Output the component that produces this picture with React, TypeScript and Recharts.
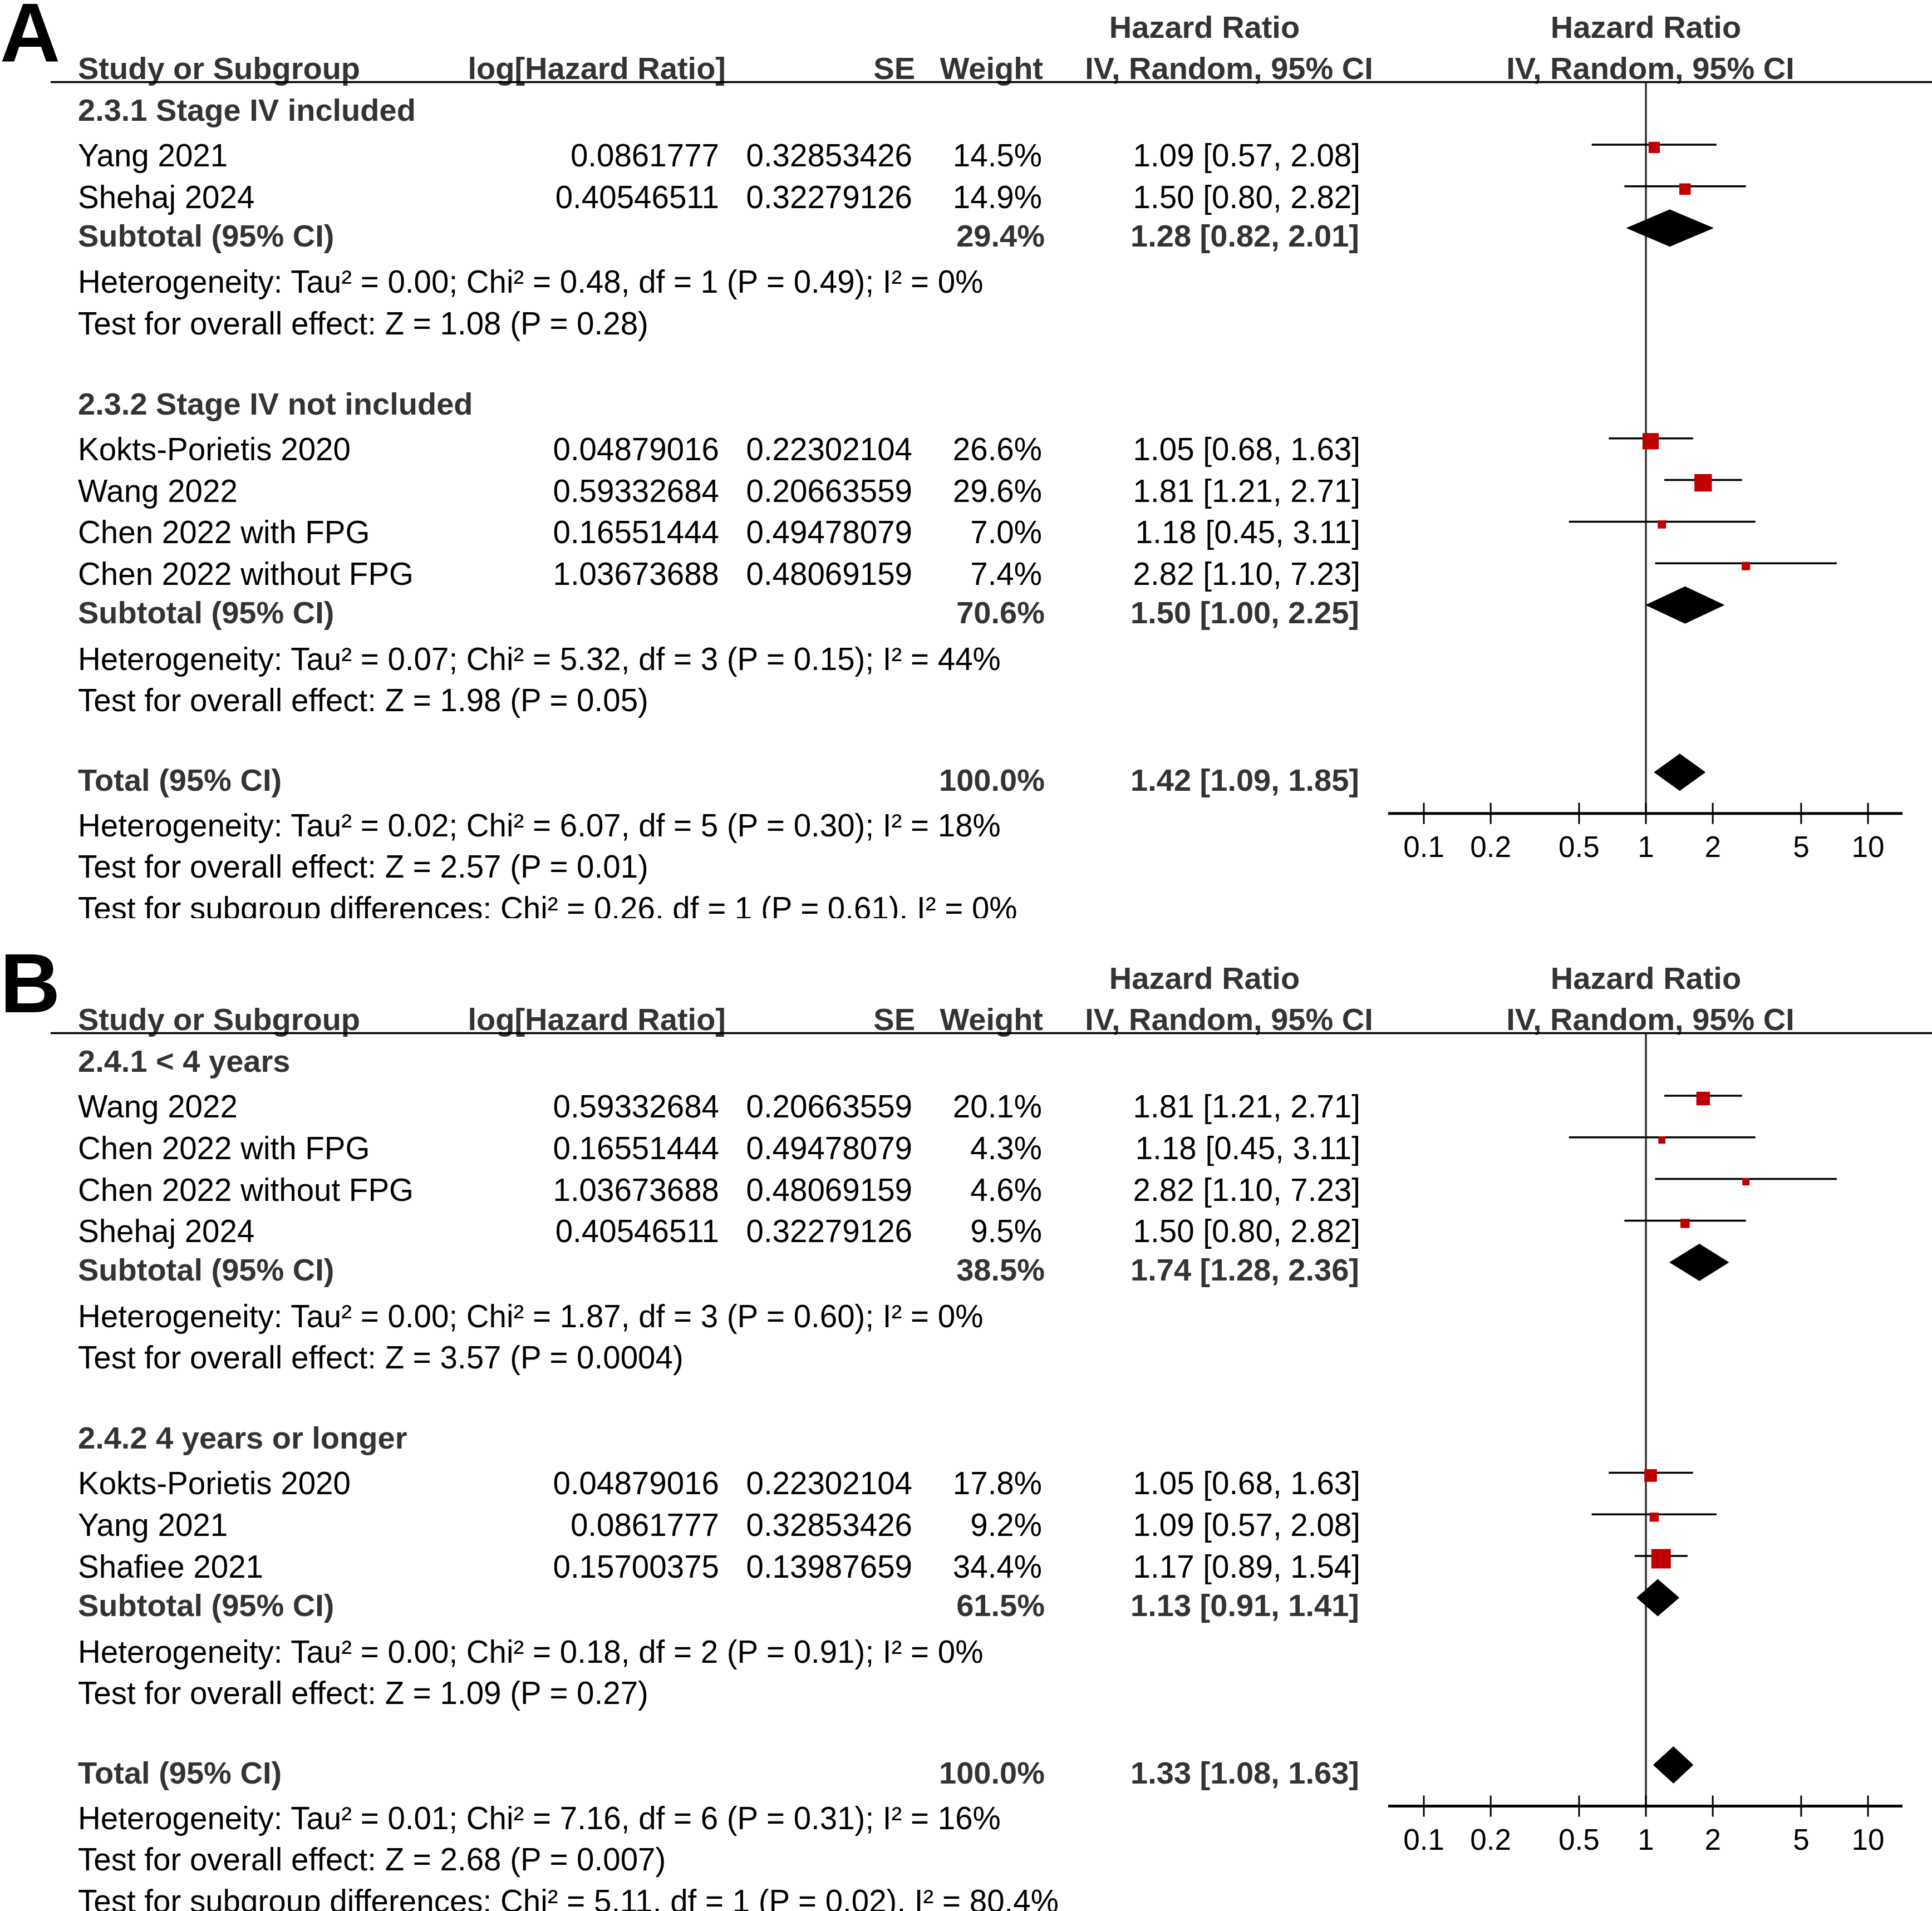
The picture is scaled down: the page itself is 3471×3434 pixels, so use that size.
import React from "react";
import { ComposedChart, XAxis, YAxis, Scatter, ReferenceLine } from "recharts";

// ---------- panel A : 2.3 stage IV ----------
const A_GROUPS = ["2.3.1 Stage IV included", "2.3.2 Stage IV not included"];
const A_STUDIES = ["Yang 2021", "Shehaj 2024", "Kokts-Porietis 2020", "Wang 2022", "Chen 2022 with FPG", "Chen 2022 without FPG"];
const A_STUDY_GROUP = [0, 0, 1, 1, 1, 1];
const A_LOG_HR = ["0.0861777", "0.40546511", "0.04879016", "0.59332684", "0.16551444", "1.03673688"];
const A_SE = ["0.32853426", "0.32279126", "0.22302104", "0.20663559", "0.49478079", "0.48069159"];
const A_WEIGHT = [14.5, 14.9, 26.6, 29.6, 7.0, 7.4];
const A_HR = [1.09, 1.5, 1.05, 1.81, 1.18, 2.82];
const A_LO = [0.57, 0.8, 0.68, 1.21, 0.45, 1.1];
const A_HI = [2.08, 2.82, 1.63, 2.71, 3.11, 7.23];
const A_SUB_WEIGHT = [29.4, 70.6];
const A_SUB_HR = [1.28, 1.5];
const A_SUB_LO = [0.82, 1.0];
const A_SUB_HI = [2.01, 2.25];
const A_SUB_HET = [
  "Heterogeneity: Tau² = 0.00; Chi² = 0.48, df = 1 (P = 0.49); I² = 0%",
  "Heterogeneity: Tau² = 0.07; Chi² = 5.32, df = 3 (P = 0.15); I² = 44%",
];
const A_SUB_Z = ["Test for overall effect: Z = 1.08 (P = 0.28)", "Test for overall effect: Z = 1.98 (P = 0.05)"];
const A_TOTAL = [1.42, 1.09, 1.85];
const A_TOTAL_NOTES = [
  "Heterogeneity: Tau² = 0.02; Chi² = 6.07, df = 5 (P = 0.30); I² = 18%",
  "Test for overall effect: Z = 2.57 (P = 0.01)",
  "Test for subgroup differences: Chi² = 0.26, df = 1 (P = 0.61), I² = 0%",
];

// ---------- panel B : 2.4 follow-up ----------
const B_GROUPS = ["2.4.1 < 4 years", "2.4.2 4 years or longer"];
const B_STUDIES = ["Wang 2022", "Chen 2022 with FPG", "Chen 2022 without FPG", "Shehaj 2024", "Kokts-Porietis 2020", "Yang 2021", "Shafiee 2021"];
const B_STUDY_GROUP = [0, 0, 0, 0, 1, 1, 1];
const B_LOG_HR = ["0.59332684", "0.16551444", "1.03673688", "0.40546511", "0.04879016", "0.0861777", "0.15700375"];
const B_SE = ["0.20663559", "0.49478079", "0.48069159", "0.32279126", "0.22302104", "0.32853426", "0.13987659"];
const B_WEIGHT = [20.1, 4.3, 4.6, 9.5, 17.8, 9.2, 34.4];
const B_HR = [1.81, 1.18, 2.82, 1.5, 1.05, 1.09, 1.17];
const B_LO = [1.21, 0.45, 1.1, 0.8, 0.68, 0.57, 0.89];
const B_HI = [2.71, 3.11, 7.23, 2.82, 1.63, 2.08, 1.54];
const B_SUB_WEIGHT = [38.5, 61.5];
const B_SUB_HR = [1.74, 1.13];
const B_SUB_LO = [1.28, 0.91];
const B_SUB_HI = [2.36, 1.41];
const B_SUB_HET = [
  "Heterogeneity: Tau² = 0.00; Chi² = 1.87, df = 3 (P = 0.60); I² = 0%",
  "Heterogeneity: Tau² = 0.00; Chi² = 0.18, df = 2 (P = 0.91); I² = 0%",
];
const B_SUB_Z = ["Test for overall effect: Z = 3.57 (P = 0.0004)", "Test for overall effect: Z = 1.09 (P = 0.27)"];
const B_TOTAL = [1.33, 1.08, 1.63];
const B_TOTAL_NOTES = [
  "Heterogeneity: Tau² = 0.01; Chi² = 7.16, df = 6 (P = 0.31); I² = 16%",
  "Test for overall effect: Z = 2.68 (P = 0.007)",
  "Test for subgroup differences: Chi² = 5.11, df = 1 (P = 0.02), I² = 80.4%",
];

const HR_TICKS = [0.1, 0.2, 0.5, 1, 2, 5, 10];

// ---------- layout ----------
const W = 3471;
const FONT = '"Liberation Sans", Arial, Helvetica, sans-serif';
const FS = 56.5;
const FS_BOLD = 56;
const PLOT_L = 2494;
const PLOT_R = 3418;
const X_DOMAIN = [0.0691, 14.3];
const LINE_Y = 147.5;
const AXIS_BELOW_TOTAL = 61;
const XAXIS_H = 110;
const FIRST_ROW = 197;
const GAP = { group: 144, firstStudy: 82, study: 74.8, subtotal: 69, het: 83.5, line: 74.5, total: 142.5, totalHet: 82 };
const COL = { name: 140, logHr: 1292, logHrHead: 1304, se: 1639, seHead: 1644, weight: 1874, ci: 2444 };

type Panel = {
  letter: string;
  groups: string[];
  studies: string[];
  studyGroup: number[];
  logHr: string[];
  se: string[];
  weight: number[];
  hr: number[];
  lo: number[];
  hi: number[];
  subWeight: number[];
  subHr: number[];
  subLo: number[];
  subHi: number[];
  subHet: string[];
  subZ: string[];
  total: number[];
  totalNotes: string[];
  clipH: number;
};

type Row = { kind: "group" | "study" | "subtotal" | "note" | "total"; y: number; i?: number; text?: string };

function buildRows(d: Panel): Row[] {
  const rows: Row[] = [];
  let y = FIRST_ROW;
  const add = (r: Omit<Row, "y">, gap: number) => {
    if (rows.length) y += gap;
    rows.push({ ...r, y });
  };
  d.groups.forEach((g, gi) => {
    add({ kind: "group", text: g }, GAP.group);
    let first = true;
    d.studyGroup.forEach((sg, si) => {
      if (sg !== gi) return;
      add({ kind: "study", i: si }, first ? GAP.firstStudy : GAP.study);
      first = false;
    });
    add({ kind: "subtotal", i: gi }, GAP.subtotal);
    add({ kind: "note", text: d.subHet[gi] }, GAP.het);
    add({ kind: "note", text: d.subZ[gi] }, GAP.line);
  });
  add({ kind: "total" }, GAP.total);
  add({ kind: "note", text: d.totalNotes[0] }, GAP.totalHet);
  add({ kind: "note", text: d.totalNotes[1] }, GAP.line);
  add({ kind: "note", text: d.totalNotes[2] }, GAP.line);
  return rows;
}

const ci = (h: number, l: number, u: number) => `${h.toFixed(2)} [${l.toFixed(2)}, ${u.toFixed(2)}]`;

function T({ x, y, anchor = "start", bold = false, children }: any) {
  return (
    <text
      x={x}
      y={y}
      textAnchor={anchor}
      fontFamily={FONT}
      fontSize={bold ? FS_BOLD : FS}
      fontWeight={bold ? 700 : 400}
      fill={bold ? "#333333" : "#000000"}
    >
      {children}
    </text>
  );
}

// baseline of a row's text from its centre
const BL = 20;

function HrTick(props: any) {
  const { x, y, payload } = props;
  return (
    <g>
      <line x1={x} x2={x} y1={y - 19} y2={y + 19} stroke="#000" strokeWidth={3} />
      <text x={x} y={y + 78} textAnchor="middle" fontFamily={FONT} fontSize={53} fill="#000">
        {payload.value}
      </text>
    </g>
  );
}

const ciShape = (p: any) => (
  <line x1={p.x1} x2={p.x2} y1={p.y1 - 19} y2={p.y2 - 19} stroke="#000" strokeWidth={3.5} />
);

const diamondShape = (p: any) => {
  const cy = p.y1 - 13;
  const cx = p.cx;
  return (
    <polygon
      points={`${p.x1},${cy} ${cx},${cy - 33} ${p.x2},${cy} ${cx},${cy + 33}`}
      fill="#000"
      stroke="#000"
      strokeWidth={1}
    />
  );
};

const squareShape = (p: any) => {
  const s = 9.6 + 0.737 * p.payload.w;
  return <rect x={p.cx - s / 2} y={p.cy - 14 - s / 2} width={s} height={s} fill="#C00000" />;
};

function ForestPanel({ d }: { d: Panel }) {
  const rows = buildRows(d);
  const totalRow = rows.find((r) => r.kind === "total")!;
  const axisPos = totalRow.y + AXIS_BELOW_TOTAL;
  const chartH = axisPos + XAXIS_H;

  const studyPts = rows
    .filter((r) => r.kind === "study")
    .map((r) => ({ hr: d.hr[r.i!], lo: d.lo[r.i!], hi: d.hi[r.i!], w: d.weight[r.i!], pos: r.y }));
  const diamonds = rows
    .filter((r) => r.kind === "subtotal" || r.kind === "total")
    .map((r) =>
      r.kind === "total"
        ? { hr: d.total[0], lo: d.total[1], hi: d.total[2], pos: r.y }
        : { hr: d.subHr[r.i!], lo: d.subLo[r.i!], hi: d.subHi[r.i!], pos: r.y }
    );

  return (
    <div style={{ position: "relative", width: W, height: d.clipH, overflow: "hidden", background: "#fff" }}>
      <div style={{ position: "absolute", left: 0, top: 0 }}>
        <ComposedChart
          width={W}
          height={chartH}
          margin={{ top: LINE_Y, right: W - PLOT_R, left: PLOT_L, bottom: 0 }}
        >
          <XAxis
            type="number"
            dataKey="hr"
            scale="log"
            domain={X_DOMAIN}
            allowDataOverflow
            ticks={HR_TICKS}
            interval={0}
            tick={<HrTick />}
            tickLine={false}
            tickSize={0}
            tickMargin={0}
            height={XAXIS_H}
            axisLine={{ stroke: "#000", strokeWidth: 5 }}
          />
          <YAxis type="number" dataKey="pos" domain={[LINE_Y, axisPos]} reversed hide allowDataOverflow />
          <ReferenceLine x={1} stroke="#333" strokeWidth={3.5} />
          {studyPts.map((s, k) => (
            <ReferenceLine
              key={"ci" + k}
              segment={[
                { x: s.lo, y: s.pos },
                { x: s.hi, y: s.pos },
              ]}
              ifOverflow="visible"
              shape={ciShape}
            />
          ))}
          {diamonds.map((s, k) => (
            <ReferenceLine
              key={"dm" + k}
              segment={[
                { x: s.lo, y: s.pos },
                { x: s.hi, y: s.pos },
              ]}
              ifOverflow="visible"
              shape={(p: any) => {
                const sc = Math.log(s.hr / s.lo) / Math.log(s.hi / s.lo);
                return diamondShape({ ...p, cx: p.x1 + (p.x2 - p.x1) * sc });
              }}
            />
          ))}
          <Scatter data={studyPts} dataKey="pos" shape={squareShape} isAnimationActive={false} />
        </ComposedChart>
      </div>

      <svg width={W} height={d.clipH} style={{ position: "absolute", left: 0, top: 0, pointerEvents: "none" }}>
        <text x={0} y={110} fontFamily={FONT} fontSize={150} fontWeight={700} fill="#000">
          {d.letter}
        </text>
        <T x={2164} y={68} anchor="middle" bold>Hazard Ratio</T>
        <T x={2957} y={68} anchor="middle" bold>Hazard Ratio</T>
        <T x={COL.name} y={142} bold>Study or Subgroup</T>
        <T x={COL.logHrHead} y={142} anchor="end" bold>log[Hazard Ratio]</T>
        <T x={COL.seHead} y={142} anchor="end" bold>SE</T>
        <T x={COL.weight} y={142} anchor="end" bold>Weight</T>
        <T x={2208} y={142} anchor="middle" bold>IV, Random, 95% CI</T>
        <T x={2965} y={142} anchor="middle" bold>IV, Random, 95% CI</T>
        <line x1={91} x2={W} y1={LINE_Y} y2={LINE_Y} stroke="#000" strokeWidth={3.5} />

        {rows.map((r, k) => {
          const y = r.y + BL;
          if (r.kind === "group") return <T key={k} x={COL.name} y={y} bold>{r.text}</T>;
          if (r.kind === "note") return <T key={k} x={COL.name} y={y}>{r.text}</T>;
          if (r.kind === "study") {
            const i = r.i!;
            return (
              <g key={k}>
                <T x={COL.name} y={y}>{d.studies[i]}</T>
                <T x={COL.logHr} y={y} anchor="end">{d.logHr[i]}</T>
                <T x={COL.se} y={y} anchor="end">{d.se[i]}</T>
                <T x={COL.weight - 2} y={y} anchor="end">{d.weight[i].toFixed(1) + "%"}</T>
                <T x={COL.ci} y={y} anchor="end">{ci(d.hr[i], d.lo[i], d.hi[i])}</T>
              </g>
            );
          }
          if (r.kind === "subtotal") {
            const i = r.i!;
            return (
              <g key={k}>
                <T x={COL.name} y={y} bold>Subtotal (95% CI)</T>
                <T x={COL.weight + 3} y={y} anchor="end" bold>{d.subWeight[i].toFixed(1) + "%"}</T>
                <T x={COL.ci - 2} y={y} anchor="end" bold>{ci(d.subHr[i], d.subLo[i], d.subHi[i])}</T>
              </g>
            );
          }
          return (
            <g key={k}>
              <T x={COL.name} y={y} bold>Total (95% CI)</T>
              <T x={COL.weight + 3} y={y} anchor="end" bold>100.0%</T>
              <T x={COL.ci - 2} y={y} anchor="end" bold>{ci(d.total[0], d.total[1], d.total[2])}</T>
            </g>
          );
        })}
      </svg>
    </div>
  );
}

const PANEL_A: Panel = {
  letter: "A",
  groups: A_GROUPS,
  studies: A_STUDIES,
  studyGroup: A_STUDY_GROUP,
  logHr: A_LOG_HR,
  se: A_SE,
  weight: A_WEIGHT,
  hr: A_HR,
  lo: A_LO,
  hi: A_HI,
  subWeight: A_SUB_WEIGHT,
  subHr: A_SUB_HR,
  subLo: A_SUB_LO,
  subHi: A_SUB_HI,
  subHet: A_SUB_HET,
  subZ: A_SUB_Z,
  total: A_TOTAL,
  totalNotes: A_TOTAL_NOTES,
  clipH: 1650,
};

const PANEL_B: Panel = {
  letter: "B",
  groups: B_GROUPS,
  studies: B_STUDIES,
  studyGroup: B_STUDY_GROUP,
  logHr: B_LOG_HR,
  se: B_SE,
  weight: B_WEIGHT,
  hr: B_HR,
  lo: B_LO,
  hi: B_HI,
  subWeight: B_SUB_WEIGHT,
  subHr: B_SUB_HR,
  subLo: B_SUB_LO,
  subHi: B_SUB_HI,
  subHet: B_SUB_HET,
  subZ: B_SUB_Z,
  total: B_TOTAL,
  totalNotes: B_TOTAL_NOTES,
  clipH: 1725,
};

export default function App() {
  return (
    <div style={{ position: "relative", width: W, height: 3434, background: "#fff", overflow: "hidden" }}>
      <style>{"body{margin:0;background:#fff}"}</style>
      <div style={{ position: "absolute", left: 0, top: 0 }}>
        <ForestPanel d={PANEL_A} />
      </div>
      <div style={{ position: "absolute", left: 0, top: 1709 }}>
        <ForestPanel d={PANEL_B} />
      </div>
    </div>
  );
}
